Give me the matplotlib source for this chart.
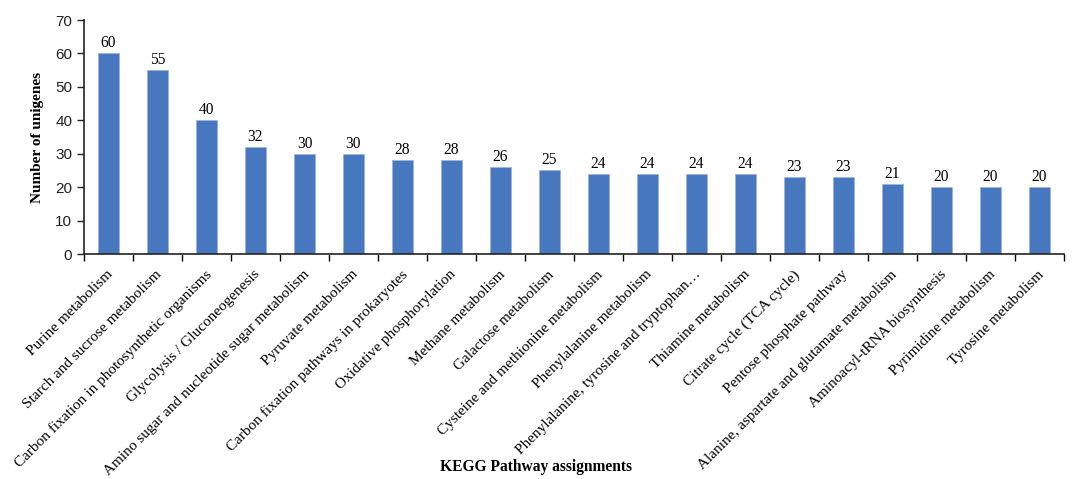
import matplotlib
matplotlib.use("Agg")
import matplotlib.pyplot as plt
import numpy as np

pathways = [
    "Purine metabolism",
    "Starch and sucrose metabolism",
    "Carbon fixation in photosynthetic organisms",
    "Glycolysis / Gluconeogenesis",
    "Amino sugar and nucleotide sugar metabolism",
    "Pyruvate metabolism",
    "Carbon fixation pathways in prokaryotes",
    "Oxidative phosphorylation",
    "Methane metabolism",
    "Galactose metabolism",
    "Cysteine and methionine metabolism",
    "Phenylalanine metabolism",
    "Phenylalanine, tyrosine and tryptophan\u2026",
    "Thiamine metabolism",
    "Citrate cycle (TCA cycle)",
    "Pentose phosphate pathway",
    "Alanine, aspartate and glutamate metabolism",
    "Aminoacyl-tRNA biosynthesis",
    "Pyrimidine metabolism",
    "Tyrosine metabolism",
]
unigenes = [60, 55, 40, 32, 30, 30, 28, 28, 26, 25, 24, 24, 24, 24, 23, 23, 21, 20, 20, 20]

plt.rcParams["font.family"] = ["Liberation Serif", "DejaVu Serif"]

fig = plt.figure(figsize=(10.75, 4.79), dpi=100)
ax = fig.add_axes([84 / 1075, 1 - 254 / 479, (1064 - 84) / 1075, (254 - 20) / 479])

x = np.arange(len(unigenes))
ax.bar(x, unigenes, width=0.41, color="#4677BF", edgecolor="#9DB5DC", linewidth=0.6, zorder=2)

for xi, v in zip(x, unigenes):
    ax.text(xi, v + 0.6, str(v), ha="center", va="bottom", fontsize=11.2)

ax.set_xlim(-0.5, len(unigenes) - 0.5)
ax.set_ylim(0, 70)
ax.set_yticks(range(0, 71, 10))
ax.tick_params(axis="y", labelsize=11, direction="out", length=5, width=1, colors="#222222")
for lbl in ax.get_yticklabels():
    lbl.set_family(["Liberation Sans", "DejaVu Sans"])

# ticks sit on category boundaries, labels sit under the bars
ax.set_xticks(np.arange(-0.5, len(unigenes), 1.0))
ax.set_xticklabels([])
ax.tick_params(axis="x", which="major", direction="out", length=5, width=1)
ax.set_xticks(x, minor=True)
ax.set_xticklabels(pathways, minor=True, rotation=45, ha="right", rotation_mode="anchor", fontsize=11)
ax.tick_params(axis="x", which="minor", length=0, pad=10)
for lbl in ax.get_xticklabels(minor=True):
    lbl.set_transform(lbl.get_transform() + matplotlib.transforms.ScaledTranslation(-2 / 100, 0, fig.dpi_scale_trans))

for s in ("top", "right"):
    ax.spines[s].set_visible(False)
ax.spines["left"].set_linewidth(1.2)
ax.spines["bottom"].set_linewidth(1.2)
ax.spines["left"].set_color("#222222")
ax.spines["bottom"].set_color("#222222")

ax.set_ylabel("Number of unigenes", fontsize=11, fontweight="bold", labelpad=8)
fig.text(536 / 1075, 1 - 467 / 479, "KEGG Pathway assignments", ha="center", va="center",
         fontsize=11.2, fontweight="bold")

fig.savefig("out.png", dpi=100)
